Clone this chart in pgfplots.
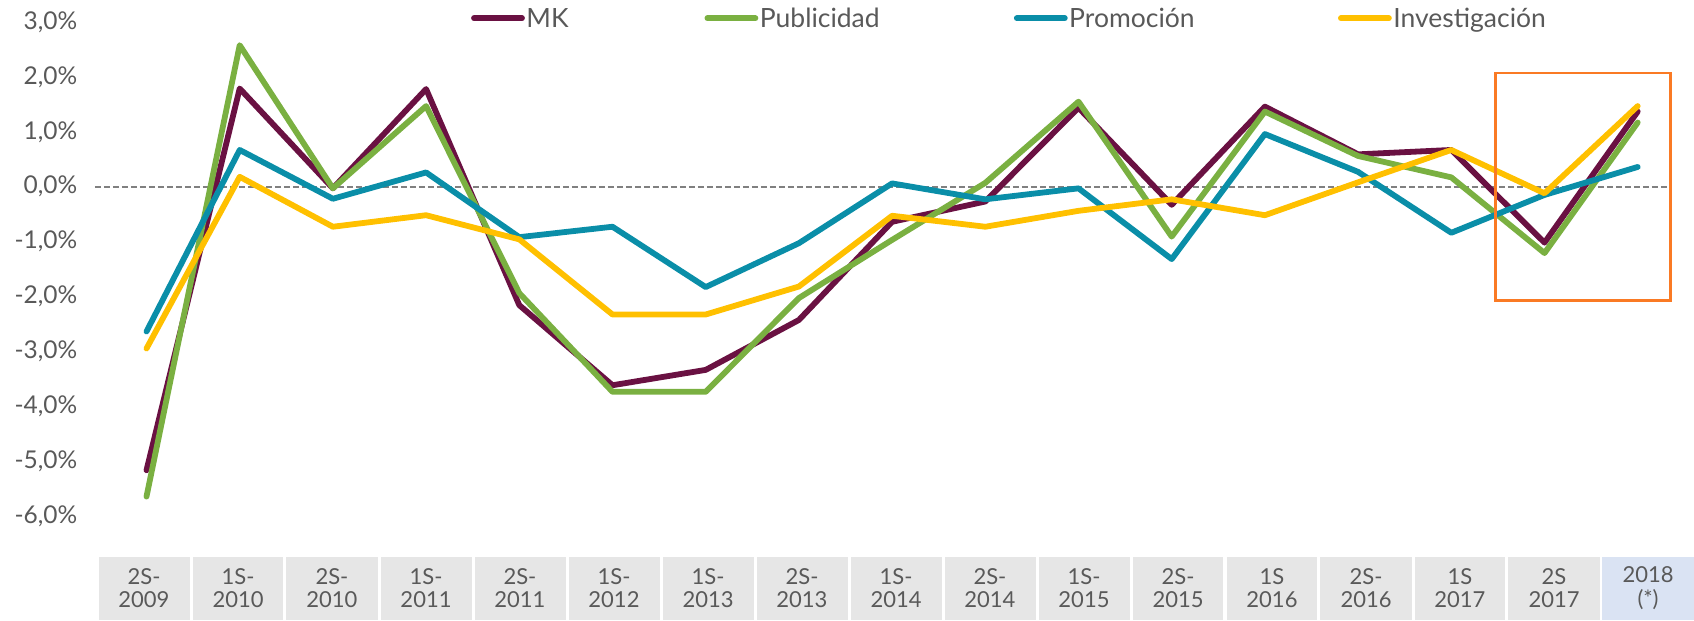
\documentclass[border=0pt]{standalone}
\usepackage{fontspec}
\setmainfont{Lato}
\usepackage{pgfplots}
\pgfplotsset{compat=1.18}
\definecolor{mk}{HTML}{6A1142}
\definecolor{publi}{HTML}{7AB041}
\definecolor{promo}{HTML}{0A8EA8}
\definecolor{inves}{HTML}{FFC000}
\definecolor{hilite}{HTML}{FA7A24}
\definecolor{txt}{HTML}{595959}
\definecolor{boxgray}{HTML}{E6E6E6}
\definecolor{boxblue}{HTML}{DAE3F3}
\definecolor{zero}{HTML}{808080}

\begin{document}
\begin{tikzpicture}
\begin{axis}[
  set layers,
  scale only axis, width=1584.4pt, height=556.7pt,
  xmin=-0.5, xmax=16.5, ymin=-6.746, ymax=3.404,
  axis line style={draw=none}, major tick length=0pt, clip=false,
  ytick={-6,-5,-4,-3,-2,-1,0,1,2,3},
  yticklabels={{-6,0\%},{-5,0\%},{-4,0\%},{-3,0\%},{-2,0\%},{-1,0\%},{0,0\%},{1,0\%},{2,0\%},{3,0\%}},
  yticklabel style={font=\fontsize{24.5}{24.5}\selectfont, text=txt, anchor=east, inner sep=0pt, xshift=-22.4pt},
  xtick={-0.027,0.982,1.990,2.999,4.007,5.016,6.025,7.033,8.042,9.050,10.059,11.068,12.076,13.085,14.093,15.102,16.111},
  xticklabels={{2S-\\2009},{1S-\\2010},{2S-\\2010},{1S-\\2011},{2S-\\2011},{1S-\\2012},{1S-\\2013},{2S-\\2013},{1S-\\2014},{2S-\\2014},{1S-\\2015},{2S-\\2015},{1S\\2016},{2S-\\2016},{1S\\2017},{2S\\2017},{2018\\(*)}},
  xticklabel style={font=\fontsize{22}{23.5}\selectfont, text=txt, align=center, anchor=center, inner sep=0pt, yshift=-31.5pt},
  every axis plot/.append style={line width=5.8pt, line join=round, line cap=round},
  legend columns=4,
  legend cell align=left,
  legend image code/.code={\draw[#1] (0pt,0pt) -- (48pt,0pt);},
  legend style={at={(axis description cs:0,1)}, anchor=west, xshift=371.2pt, yshift=-18.3pt,
    draw=none, fill=none, inner sep=0pt, outer sep=0pt,
    nodes={inner sep=0pt, text=txt, font=\fontsize{26.5}{26.5}\selectfont},
    /tikz/every odd column/.append style={column sep=1.5pt}},
]
% category boxes under the tick labels
\begin{pgfonlayer}{axis background}
\pgfplotsinvokeforeach{0,...,15}{
  \fill[boxgray] (axis cs:{(-48+94*#1)/93.2},-6.746) rectangle ([yshift=-63.3pt]axis cs:{(43+94*#1)/93.2},-6.746);
}
\fill[boxblue] (axis cs:15.622,-6.746) rectangle ([yshift=-63.3pt]axis cs:16.604,-6.746);
% zero reference line
\draw[zero, line width=2pt, dash pattern=on 6pt off 3pt] (axis cs:-0.553,0) -- (axis cs:16.34,0);
\end{pgfonlayer}

\addplot[mk] coordinates {
  (0,-5.17) (1,1.79) (2,-0.03) (3,1.78) (4,-2.16) (5,-3.62) (6,-3.34) (7,-2.43) (8,-0.64)
  (9,-0.27) (10,1.44) (11,-0.33) (12,1.46) (13,0.59) (14,0.67) (15,-1.02) (16,1.37)};
\addplot[publi] coordinates {
  (0,-5.65) (1,2.58) (2,-0.03) (3,1.47) (4,-1.94) (5,-3.74) (6,-3.74) (7,-2.03) (8,-0.97)
  (9,0.07) (10,1.55) (11,-0.91) (12,1.37) (13,0.56) (14,0.17) (15,-1.21) (16,1.17)};
\addplot[promo] coordinates {
  (0,-2.64) (1,0.67) (2,-0.22) (3,0.26) (4,-0.92) (5,-0.73) (6,-1.83) (7,-1.03) (8,0.06)
  (9,-0.23) (10,-0.03) (11,-1.32) (12,0.96) (13,0.27) (14,-0.84) (15,-0.15) (16,0.36)};
\addplot[inves] coordinates {
  (0,-2.95) (1,0.18) (2,-0.73) (3,-0.52) (4,-0.96) (5,-2.33) (6,-2.33) (7,-1.82) (8,-0.53)
  (9,-0.73) (10,-0.44) (11,-0.23) (12,-0.52) (13,0.08) (14,0.67) (15,-0.12) (16,1.47)};
\legend{\makebox[178.1pt][l]{MK},\makebox[254.1pt][l]{Publicidad},\makebox[268.8pt][l]{Promoción},Investigación}

% highlight box
\draw[hilite, line width=2.6pt] (axis cs:14.476,2.07) rectangle (axis cs:16.35,-2.07);
\end{axis}
\pgfresetboundingbox
\path ([xshift=-99.9pt,yshift=-63.3pt]current axis.south west) rectangle ([xshift=9.7pt]current axis.north east);
\end{tikzpicture}
\end{document}
